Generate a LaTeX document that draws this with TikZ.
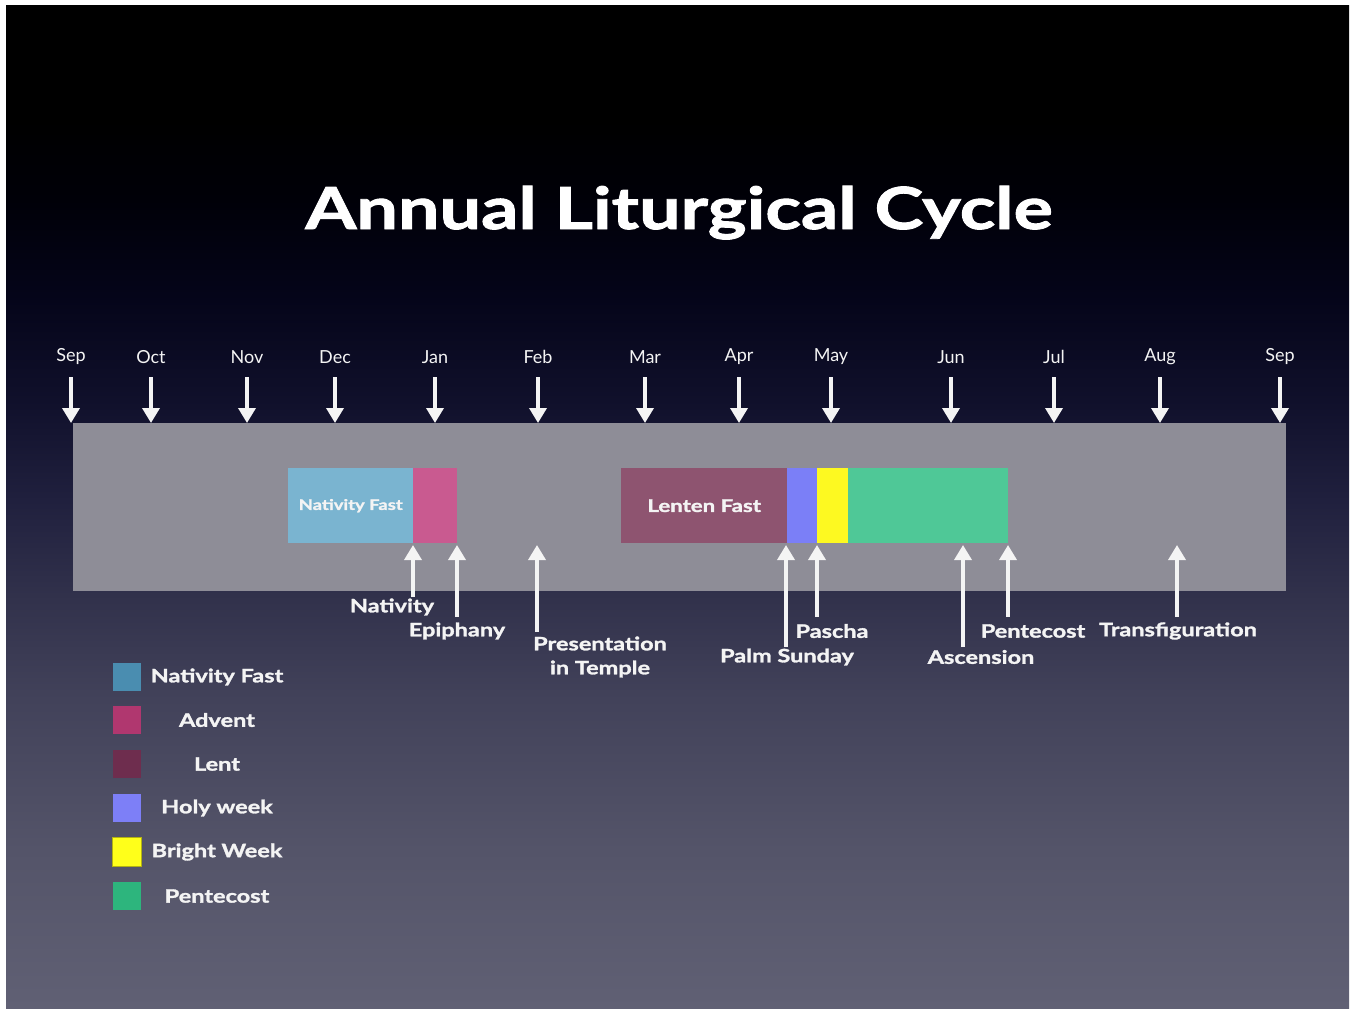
\documentclass[tikz,border=0pt]{standalone}
\usepackage{fontspec}
\setmainfont{Lato}[BoldFeatures={FakeStretch=1.27,FakeBold=1.6}]
\usetikzlibrary{arrows.meta}
\definecolor{bgA}{HTML}{606074}
\definecolor{bgB}{HTML}{545469}
\definecolor{bgC}{HTML}{42425A}
\definecolor{bgD}{HTML}{32324C}
\definecolor{bgE}{HTML}{20203E}
\definecolor{bgF}{HTML}{10102B}
\definecolor{bgG}{HTML}{05051A}
\definecolor{bgH}{HTML}{000008}
\definecolor{barc}{HTML}{8E8D97}
\definecolor{natfast}{HTML}{7AB4D0}
\definecolor{advent}{HTML}{C95A90}
\definecolor{lenten}{HTML}{8E5470}
\definecolor{holyw}{HTML}{7B7FF7}
\definecolor{brightw}{HTML}{FDF921}
\definecolor{pentec}{HTML}{4FC897}
\definecolor{lgnat}{HTML}{4A8DB0}
\definecolor{lgadv}{HTML}{B0376F}
\definecolor{lglent}{HTML}{6E2D4E}
\definecolor{lgholy}{HTML}{7D7FF7}
\definecolor{lgbright}{HTML}{FFFF1A}
\definecolor{lgpent}{HTML}{2DB57D}
\definecolor{txt}{HTML}{F4F4F4}
\pgfdeclareverticalshading{slidebg}{100bp}{color(0bp)=(bgA); color(25bp)=(bgA); color(32.9bp)=(bgB); color(40.4bp)=(bgC); color(45.3bp)=(bgD); color(50.3bp)=(bgE); color(55.3bp)=(bgF); color(60.3bp)=(bgG); color(65.3bp)=(bgH); color(69.3bp)=(black); color(100bp)=(black)}
\tikzset{
  arr/.style={draw=txt, line width=3.5pt, -{Triangle[width=17pt,length=15pt]}},
  month/.style={text=txt, font=\fontsize{18}{20}\selectfont, inner sep=0pt},
  evlabel/.style={text=txt, font=\bfseries\fontsize{18.5}{24}\selectfont, inner sep=0pt, align=center},
  period/.style={draw=none, inner sep=0pt, anchor=north west, text=txt},
  swatch/.style={minimum size=28pt, inner sep=0pt},
  legtext/.style={text=txt, font=\bfseries\fontsize{18.5}{22}\selectfont, inner sep=0pt},
}
\begin{document}
\begin{tikzpicture}[x=1pt,y=-1pt]
\useasboundingbox (0,0) rectangle (1351,1009);
\fill[white] (0,0) rectangle (1351,1009);
\shade[shading=slidebg] (6,5) rectangle (1349,1008);

% title
\node[text=white, font=\bfseries\fontsize{58}{64}\selectfont, inner sep=0pt, anchor=base] (title) at (679,229) {Annual Liturgical Cycle};

% timeline bar
\node[fill=barc, minimum width=1213pt, minimum height=168pt, anchor=north west, inner sep=0pt] (bar) at (73,423) {};

% periods
\node[period, fill=natfast, minimum width=125pt, minimum height=75pt, font=\bfseries\fontsize{14.5}{16}\selectfont] (nf) at (288,468) {Nativity Fast};
\node[period, fill=advent, minimum width=44pt, minimum height=75pt] (adv) at (413,468) {};
\node[period, fill=lenten, minimum width=166pt, minimum height=75pt, font=\bfseries\fontsize{17.5}{20}\selectfont] (lf) at (621,468) {Lenten Fast};
\node[period, fill=holyw, minimum width=30pt, minimum height=75pt] (hw) at (787,468) {};
\node[period, fill=brightw, minimum width=31pt, minimum height=75pt] (bw) at (817,468) {};
\node[period, fill=pentec, minimum width=160pt, minimum height=75pt] (pc) at (848,468) {};

% months
\foreach \n/\x/\lab in {1/71/Sep,2/151/Oct,3/247/Nov,4/335/Dec,5/435/Jan,6/538/Feb,7/645/Mar,8/739/Apr,9/831/May,10/951/Jun,11/1054/Jul,12/1160/Aug,13/1280/Sep}{
  \node[month] (m\n) at (\x,357) {\lab};
  \coordinate (ms\n) at (\x,377);
  \coordinate (mt\n) at (\x,423);
  \draw[arr] (ms\n) -- (mt\n);
}

% events
\foreach \n/\x/\yb/\lx/\ly/\lab in {
  1/413/597/392/607/Nativity,
  2/457/617/457/631/Epiphany,
  3/537/632/600/657/{Presentation\\in Temple},
  4/786/647/787/657/Palm Sunday,
  5/817/617/832/631/Pascha,
  6/963/647/981/657/Ascension,
  7/1008/617/1033/631/Pentecost,
  8/1177/617/1178/631/Transfiguration}{
  \coordinate (eb\n) at (\x,\yb);
  \coordinate (et\n) at (\x,545);
  \draw[arr] (eb\n) -- (et\n);
  \node[evlabel] (ev\n) at (\lx,\ly) {\lab};
}

% legend
\foreach \n/\y/\c/\lab in {1/677/lgnat/Nativity Fast,2/720/lgadv/Advent,3/764/lglent/Lent,4/808/lgholy/Holy week,5/852/lgbright/Bright Week,6/896/lgpent/Pentecost}{
  \node[swatch, fill=\c] (sw\n) at (127,\y) {};
  \node[legtext] (lt\n) at (217,\y) {\lab};
}
\draw[draw=black!30!lgbright, line width=0.8pt] (sw5.north west) rectangle (sw5.south east);
\end{tikzpicture}
\end{document}
